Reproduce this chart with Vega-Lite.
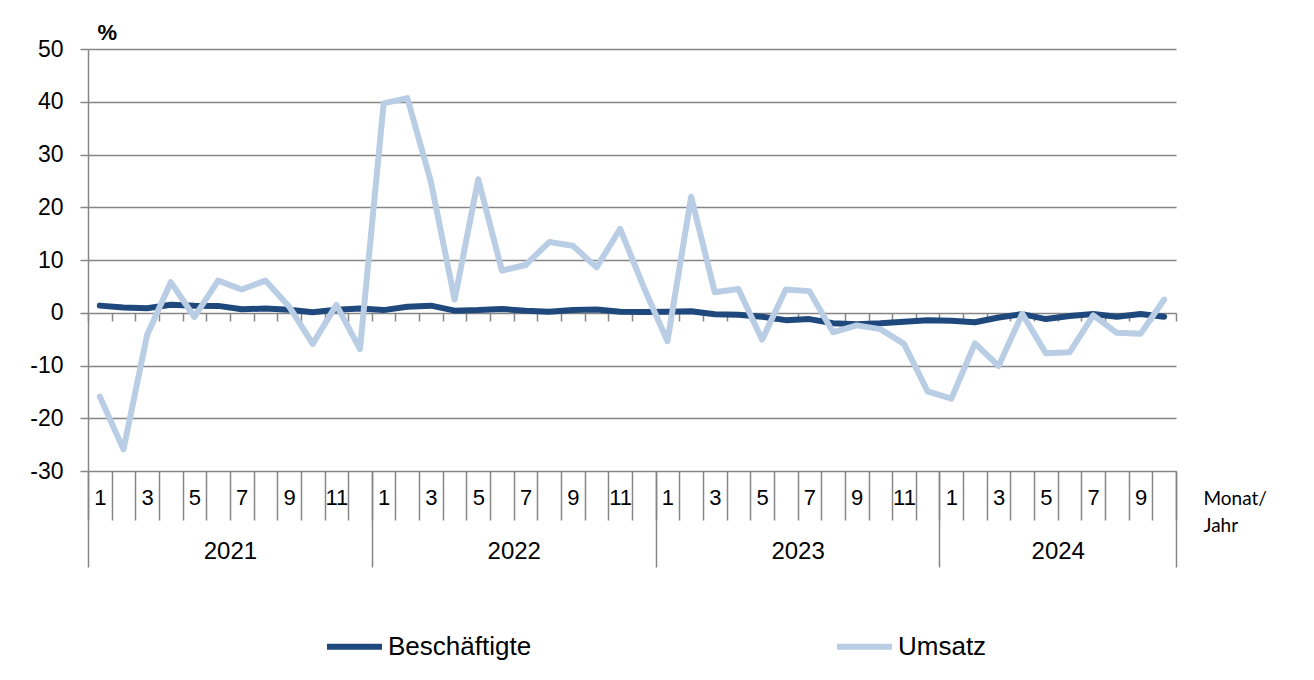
{
  "$schema": "https://vega.github.io/schema/vega-lite/v6.json",
  "width": 1088,
  "height": 422,
  "autosize": {"type": "none"},
  "padding": {"left": 88, "top": 49, "right": 138, "bottom": 209},
  "background": "white",
  "config": {
    "view": {"stroke": null},
    "font": "Liberation Sans",
    "axis": {"labelFont": "Liberation Sans", "labelColor": "#000000", "titleColor": "#000000"}
  },
  "data": {
    "values": [
      {"n": 1, "year": 2021, "month": 1, "series": "Beschäftigte", "value": 1.35},
      {"n": 2, "year": 2021, "month": 2, "series": "Beschäftigte", "value": 1.0},
      {"n": 3, "year": 2021, "month": 3, "series": "Beschäftigte", "value": 0.85},
      {"n": 4, "year": 2021, "month": 4, "series": "Beschäftigte", "value": 1.5},
      {"n": 5, "year": 2021, "month": 5, "series": "Beschäftigte", "value": 1.35},
      {"n": 6, "year": 2021, "month": 6, "series": "Beschäftigte", "value": 1.3},
      {"n": 7, "year": 2021, "month": 7, "series": "Beschäftigte", "value": 0.65},
      {"n": 8, "year": 2021, "month": 8, "series": "Beschäftigte", "value": 0.8},
      {"n": 9, "year": 2021, "month": 9, "series": "Beschäftigte", "value": 0.55},
      {"n": 10, "year": 2021, "month": 10, "series": "Beschäftigte", "value": 0.1},
      {"n": 11, "year": 2021, "month": 11, "series": "Beschäftigte", "value": 0.55},
      {"n": 12, "year": 2021, "month": 12, "series": "Beschäftigte", "value": 0.8},
      {"n": 13, "year": 2022, "month": 1, "series": "Beschäftigte", "value": 0.5},
      {"n": 14, "year": 2022, "month": 2, "series": "Beschäftigte", "value": 1.15},
      {"n": 15, "year": 2022, "month": 3, "series": "Beschäftigte", "value": 1.35},
      {"n": 16, "year": 2022, "month": 4, "series": "Beschäftigte", "value": 0.4},
      {"n": 17, "year": 2022, "month": 5, "series": "Beschäftigte", "value": 0.5},
      {"n": 18, "year": 2022, "month": 6, "series": "Beschäftigte", "value": 0.7},
      {"n": 19, "year": 2022, "month": 7, "series": "Beschäftigte", "value": 0.4},
      {"n": 20, "year": 2022, "month": 8, "series": "Beschäftigte", "value": 0.2},
      {"n": 21, "year": 2022, "month": 9, "series": "Beschäftigte", "value": 0.5},
      {"n": 22, "year": 2022, "month": 10, "series": "Beschäftigte", "value": 0.6},
      {"n": 23, "year": 2022, "month": 11, "series": "Beschäftigte", "value": 0.2},
      {"n": 24, "year": 2022, "month": 12, "series": "Beschäftigte", "value": 0.15},
      {"n": 25, "year": 2023, "month": 1, "series": "Beschäftigte", "value": 0.2},
      {"n": 26, "year": 2023, "month": 2, "series": "Beschäftigte", "value": 0.3},
      {"n": 27, "year": 2023, "month": 3, "series": "Beschäftigte", "value": -0.3},
      {"n": 28, "year": 2023, "month": 4, "series": "Beschäftigte", "value": -0.4},
      {"n": 29, "year": 2023, "month": 5, "series": "Beschäftigte", "value": -0.75},
      {"n": 30, "year": 2023, "month": 6, "series": "Beschäftigte", "value": -1.4},
      {"n": 31, "year": 2023, "month": 7, "series": "Beschäftigte", "value": -1.2},
      {"n": 32, "year": 2023, "month": 8, "series": "Beschäftigte", "value": -2.0},
      {"n": 33, "year": 2023, "month": 9, "series": "Beschäftigte", "value": -2.2},
      {"n": 34, "year": 2023, "month": 10, "series": "Beschäftigte", "value": -2.0},
      {"n": 35, "year": 2023, "month": 11, "series": "Beschäftigte", "value": -1.7},
      {"n": 36, "year": 2023, "month": 12, "series": "Beschäftigte", "value": -1.4},
      {"n": 37, "year": 2024, "month": 1, "series": "Beschäftigte", "value": -1.5},
      {"n": 38, "year": 2024, "month": 2, "series": "Beschäftigte", "value": -1.8},
      {"n": 39, "year": 2024, "month": 3, "series": "Beschäftigte", "value": -0.9},
      {"n": 40, "year": 2024, "month": 4, "series": "Beschäftigte", "value": -0.25},
      {"n": 41, "year": 2024, "month": 5, "series": "Beschäftigte", "value": -1.2},
      {"n": 42, "year": 2024, "month": 6, "series": "Beschäftigte", "value": -0.6},
      {"n": 43, "year": 2024, "month": 7, "series": "Beschäftigte", "value": -0.25},
      {"n": 44, "year": 2024, "month": 8, "series": "Beschäftigte", "value": -0.75},
      {"n": 45, "year": 2024, "month": 9, "series": "Beschäftigte", "value": -0.25},
      {"n": 46, "year": 2024, "month": 10, "series": "Beschäftigte", "value": -0.75},
      {"n": 1, "year": 2021, "month": 1, "series": "Umsatz", "value": -15.9},
      {"n": 2, "year": 2021, "month": 2, "series": "Umsatz", "value": -25.9},
      {"n": 3, "year": 2021, "month": 3, "series": "Umsatz", "value": -4.2},
      {"n": 4, "year": 2021, "month": 4, "series": "Umsatz", "value": 5.8},
      {"n": 5, "year": 2021, "month": 5, "series": "Umsatz", "value": -0.8},
      {"n": 6, "year": 2021, "month": 6, "series": "Umsatz", "value": 6.1},
      {"n": 7, "year": 2021, "month": 7, "series": "Umsatz", "value": 4.4},
      {"n": 8, "year": 2021, "month": 8, "series": "Umsatz", "value": 6.1},
      {"n": 9, "year": 2021, "month": 9, "series": "Umsatz", "value": 1.2},
      {"n": 10, "year": 2021, "month": 10, "series": "Umsatz", "value": -5.9},
      {"n": 11, "year": 2021, "month": 11, "series": "Umsatz", "value": 1.5},
      {"n": 12, "year": 2021, "month": 12, "series": "Umsatz", "value": -6.9},
      {"n": 13, "year": 2022, "month": 1, "series": "Umsatz", "value": 39.7},
      {"n": 14, "year": 2022, "month": 2, "series": "Umsatz", "value": 40.7},
      {"n": 15, "year": 2022, "month": 3, "series": "Umsatz", "value": 24.8},
      {"n": 16, "year": 2022, "month": 4, "series": "Umsatz", "value": 2.5},
      {"n": 17, "year": 2022, "month": 5, "series": "Umsatz", "value": 25.3},
      {"n": 18, "year": 2022, "month": 6, "series": "Umsatz", "value": 8.0},
      {"n": 19, "year": 2022, "month": 7, "series": "Umsatz", "value": 9.05},
      {"n": 20, "year": 2022, "month": 8, "series": "Umsatz", "value": 13.4},
      {"n": 21, "year": 2022, "month": 9, "series": "Umsatz", "value": 12.7},
      {"n": 22, "year": 2022, "month": 10, "series": "Umsatz", "value": 8.6},
      {"n": 23, "year": 2022, "month": 11, "series": "Umsatz", "value": 15.9},
      {"n": 24, "year": 2022, "month": 12, "series": "Umsatz", "value": 4.8},
      {"n": 25, "year": 2023, "month": 1, "series": "Umsatz", "value": -5.4},
      {"n": 26, "year": 2023, "month": 2, "series": "Umsatz", "value": 22.0},
      {"n": 27, "year": 2023, "month": 3, "series": "Umsatz", "value": 3.9},
      {"n": 28, "year": 2023, "month": 4, "series": "Umsatz", "value": 4.5},
      {"n": 29, "year": 2023, "month": 5, "series": "Umsatz", "value": -5.1},
      {"n": 30, "year": 2023, "month": 6, "series": "Umsatz", "value": 4.4},
      {"n": 31, "year": 2023, "month": 7, "series": "Umsatz", "value": 4.1},
      {"n": 32, "year": 2023, "month": 8, "series": "Umsatz", "value": -3.7},
      {"n": 33, "year": 2023, "month": 9, "series": "Umsatz", "value": -2.4},
      {"n": 34, "year": 2023, "month": 10, "series": "Umsatz", "value": -3.1},
      {"n": 35, "year": 2023, "month": 11, "series": "Umsatz", "value": -5.9},
      {"n": 36, "year": 2023, "month": 12, "series": "Umsatz", "value": -14.9},
      {"n": 37, "year": 2024, "month": 1, "series": "Umsatz", "value": -16.3},
      {"n": 38, "year": 2024, "month": 2, "series": "Umsatz", "value": -5.8},
      {"n": 39, "year": 2024, "month": 3, "series": "Umsatz", "value": -10.1},
      {"n": 40, "year": 2024, "month": 4, "series": "Umsatz", "value": -0.2},
      {"n": 41, "year": 2024, "month": 5, "series": "Umsatz", "value": -7.7},
      {"n": 42, "year": 2024, "month": 6, "series": "Umsatz", "value": -7.5},
      {"n": 43, "year": 2024, "month": 7, "series": "Umsatz", "value": -0.5},
      {"n": 44, "year": 2024, "month": 8, "series": "Umsatz", "value": -3.8},
      {"n": 45, "year": 2024, "month": 9, "series": "Umsatz", "value": -4.0},
      {"n": 46, "year": 2024, "month": 10, "series": "Umsatz", "value": 2.5}
    ]
  },
  "resolve": {"axis": {"x": "independent", "y": "independent"}},
  "layer": [
    {
      "mark": {"type": "point", "opacity": 0},
      "encoding": {
        "x": {"field": "n", "type": "quantitative",
          "scale": {"domain": [0.5, 46.5], "nice": false, "zero": false},
          "axis": {"orient": "bottom", "values": [0.5,1.5,2.5,3.5,4.5,5.5,6.5,7.5,8.5,9.5,10.5,11.5,12.5,13.5,14.5,15.5,16.5,17.5,18.5,19.5,20.5,21.5,22.5,23.5,24.5,25.5,26.5,27.5,28.5,29.5,30.5,31.5,32.5,33.5,34.5,35.5,36.5,37.5,38.5,39.5,40.5,41.5,42.5,43.5,44.5,45.5,46.5],
            "labels": false, "domain": false, "grid": false, "title": null,
            "ticks": true, "tickSize": 8, "tickWidth": 1.5, "tickColor": "#868686", "offset": -158}},
        "y": {"field": "value", "type": "quantitative",
          "scale": {"domain": [-30, 50], "nice": false, "zero": false},
          "axis": {"orient": "left", "values": [-30,-20,-10,0,10,20,30,40,50],
            "labelExpr": "'' + datum.value",
            "grid": true, "gridColor": "#868686", "gridWidth": 1.5,
            "domain": true, "domainColor": "#868686", "domainWidth": 1.5,
            "ticks": true, "tickColor": "#868686", "tickWidth": 1.5, "tickSize": 8,
            "labelFontSize": 23, "labelPadding": 17,
            "title": "%", "titleAngle": 0, "titleFontSize": 22, "titleFontWeight": "bold",
            "titleAlign": "left", "titleBaseline": "alphabetic", "titleX": 9, "titleY": -10}}
      }
    },
    {
      "mark": {"type": "point", "opacity": 0},
      "encoding": {
        "x": {"field": "n", "type": "quantitative",
          "axis": {"orient": "bottom", "values": [0.5,1.5,2.5,3.5,4.5,5.5,6.5,7.5,8.5,9.5,10.5,11.5,12.5,13.5,14.5,15.5,16.5,17.5,18.5,19.5,20.5,21.5,22.5,23.5,24.5,25.5,26.5,27.5,28.5,29.5,30.5,31.5,32.5,33.5,34.5,35.5,36.5,37.5,38.5,39.5,40.5,41.5,42.5,43.5,44.5,45.5,46.5],
            "labels": false, "domain": false, "grid": false, "title": null,
            "ticks": true, "tickSize": 49, "tickWidth": 1.5, "tickColor": "#868686"}},
        "y": {"field": "value", "type": "quantitative", "axis": null}
      }
    },
    {
      "mark": {"type": "point", "opacity": 0},
      "encoding": {
        "x": {"field": "n", "type": "quantitative",
          "axis": {"orient": "bottom", "values": [0.5, 12.5, 24.5, 36.5, 46.5],
            "labels": false, "domain": false, "grid": false,
            "ticks": true, "tickSize": 96, "tickWidth": 1.5, "tickColor": "#868686",
            "title": ["Monat/", "Jahr"], "titleFont": "Lato", "titleFontSize": 19, "titleFontWeight": "normal",
            "titleAlign": "left", "titleBaseline": "top", "titleX": 1115, "titleY": 18, "titleLineHeight": 27}},
        "y": {"field": "value", "type": "quantitative", "axis": null}
      }
    },
    {
      "mark": {"type": "point", "opacity": 0},
      "encoding": {
        "x": {"field": "n", "type": "quantitative",
          "axis": {"orient": "bottom", "values": [6.5, 18.5, 30.5, 41.5],
            "labelExpr": "2021 + floor((datum.value - 0.5) / 12)",
            "labelFontSize": 24, "labelPadding": 68, "labelBaseline": "top",
            "domain": false, "grid": false, "ticks": false, "tickSize": 0, "title": null}},
        "y": {"field": "value", "type": "quantitative", "axis": null}
      }
    },
    {
      "mark": {"type": "line", "strokeWidth": 6, "strokeJoin": "round", "strokeCap": "round"},
      "encoding": {
        "x": {"field": "n", "type": "quantitative",
          "axis": {"orient": "bottom", "values": [1,3,5,7,9,11,13,15,17,19,21,23,25,27,29,31,33,35,37,39,41,43,45],
            "labelExpr": "((datum.value - 1) % 12) + 1",
            "labelFontSize": 22, "labelPadding": 16, "labelBaseline": "top",
            "domain": false, "grid": false, "ticks": false, "tickSize": 0, "title": null}},
        "y": {"field": "value", "type": "quantitative", "axis": null},
        "color": {"field": "series", "type": "nominal",
          "scale": {"domain": ["Beschäftigte", "Umsatz"], "range": ["#1F497D", "#B9CDE5"]},
          "legend": {"orient": "none", "legendX": 236, "legendY": 567, "direction": "horizontal",
            "title": null, "symbolType": "stroke", "symbolStrokeWidth": 6, "symbolSize": 3025,
            "labelFont": "Liberation Sans", "labelFontSize": 26, "labelColor": "#000000",
            "labelOffset": 3, "columnPadding": 293}}
      }
    }
  ]
}
